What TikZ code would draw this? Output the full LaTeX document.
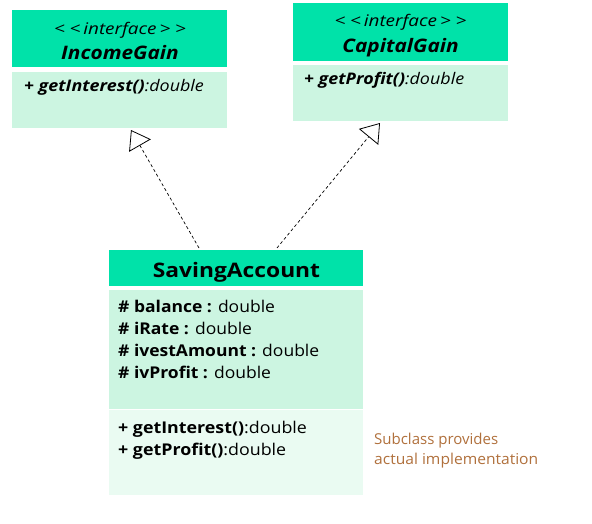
\documentclass[tikz,border=0pt]{standalone}
\usepackage{fontspec}
\usepackage{graphicx}
\setmainfont{Open Sans}
\usetikzlibrary{arrows.meta,calc}
\definecolor{hdr}{RGB}{0,226,169}
\definecolor{bodyc}{RGB}{204,245,225}
\definecolor{methc}{RGB}{234,251,242}
\definecolor{notec}{RGB}{176,112,60}
\newcommand{\hsc}[2]{\scalebox{#1}[1]{#2}}
\newcommand{\stereo}{\hsc{1.18}{<\kern4pt<\kern2.5pt interface\kern2.5pt>\kern4pt>}}
\tikzset{
  box/.style={rectangle, inner sep=0pt, anchor=north west},
  txt/.style={inner sep=0pt, anchor=base west},
  ctxt/.style={inner sep=0pt, anchor=base},
  stfont/.style={font=\fontsize{16}{19}\selectfont\itshape},
  ifont/.style={font=\fontsize{18.6}{22}\selectfont\bfseries\itshape},
  imfont/.style={font=\fontsize{16}{19}\selectfont},
  afont/.style={font=\fontsize{16.2}{19}\selectfont},
  notefont/.style={font=\fontsize{15}{18}\selectfont, text=notec},
  real/.style={dashed, draw=black, line width=0.7pt, dash pattern=on 3pt off 2.5pt,
     -{Triangle[open, length=18pt, width=25pt, line width=0.8pt]}}
}
\begin{document}
\begin{tikzpicture}[x=1pt,y=-1pt]
\useasboundingbox (0,0) rectangle (592,524);
% IncomeGain
\node[box, fill=hdr, minimum width=215pt, minimum height=57pt] (ighead) at (12,10) {};
\node[box, fill=bodyc, minimum width=215pt, minimum height=56pt] (igbody) at (12,72) {};
\node[ctxt, stfont] (igst) at (120,35) {\stereo};
\node[ctxt, ifont] (ign) at (120,59.5) {\hsc{1.12}{IncomeGain}};
\node[txt, imfont] (igm) at (24,92) {\hsc{1.12}{\textbf{\textit{+ getInterest()}}\textit{:double}}};
% CapitalGain
\node[box, fill=hdr, minimum width=215pt, minimum height=58pt] (cghead) at (293,3) {};
\node[box, fill=bodyc, minimum width=215pt, minimum height=56pt] (cgbody) at (293,65) {};
\node[ctxt, stfont] (cgst) at (400.5,27) {\stereo};
\node[ctxt, ifont] (cgn) at (400.5,53) {\hsc{1.12}{CapitalGain}};
\node[txt, imfont] (cgm) at (304,85) {\hsc{1.12}{\textbf{\textit{+ getProfit()}}\textit{:double}}};
% SavingAccount
\node[box, fill=hdr, minimum width=254pt, minimum height=36pt] (sahead) at (109,250) {};
\node[box, fill=bodyc, minimum width=254pt, minimum height=119pt] (saattr) at (109,290) {};
\node[box, fill=methc, minimum width=254pt, minimum height=85pt] (sameth) at (109,410) {};
\node[ctxt, font=\fontsize{20}{24}\selectfont\bfseries] (san) at (236.5,277) {\hsc{1.14}{SavingAccount}};
\node[txt, afont] (a1) at (118,312) {\hsc{1.08}{\textbf{\# balance :} double}};
\node[txt, afont] (a2) at (118,334) {\hsc{1.08}{\textbf{\# iRate :} double}};
\node[txt, afont] (a3) at (118,356) {\hsc{1.08}{\textbf{\# ivestAmount :} double}};
\node[txt, afont] (a4) at (118,378) {\hsc{1.08}{\textbf{\# ivProfit :} double}};
\node[txt, afont] (m1) at (118,433) {\hsc{1.1}{\textbf{+ getInterest()}:double}};
\node[txt, afont] (m2) at (118,455) {\hsc{1.1}{\textbf{+ getProfit()}:double}};
% note
\node[txt, notefont] (n1) at (374,444) {Subclass provides};
\node[txt, notefont] (n2) at (374,464) {\hsc{1.04}{actual implementation}};
% connectors
\coordinate (s1) at ($(sahead.north west)+(90,-2)$);
\coordinate (s2) at ($(sahead.north west)+(168,-2)$);
\coordinate (t1) at (131,130);
\coordinate (t2) at (380,123);
\draw[real] (s1) -- (t1);
\draw[real] (s2) -- (t2);
\end{tikzpicture}
\end{document}
